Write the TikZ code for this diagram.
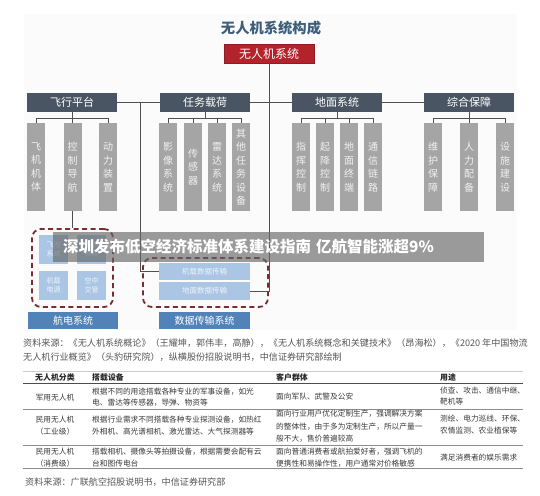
\documentclass[tikz,border=0pt]{standalone}
\usepackage{fontspec}
\setmainfont{Noto Sans CJK SC}
\usetikzlibrary{calc}
\newcommand\fsz[2]{\fontsize{#1}{#2}\selectfont}
\definecolor{titleC}{HTML}{3D5F7C}
\definecolor{rootC}{HTML}{B3232B}
\definecolor{lvlC}{HTML}{4A5563}
\definecolor{leafC}{HTML}{A5A5A5}
\definecolor{leafT}{HTML}{F0F0F0}
\definecolor{lineC}{HTML}{505050}
\definecolor{dashC}{HTML}{7A2C30}
\definecolor{lbC}{HTML}{AAC6E4}
\definecolor{lbT}{HTML}{EEF4FB}
\definecolor{mbC}{HTML}{5182B8}
\definecolor{txtC}{HTML}{3A3A3A}
\definecolor{srcC}{HTML}{555555}
\definecolor{panelC}{HTML}{FBFBFB}
\definecolor{bannerC}{HTML}{666666}
\tikzset{
  ln/.style={draw=lineC, line width=0.9pt},
  rootbox/.style={fill=rootC, draw=rootC!80!black, text=white, minimum width=90pt, minimum height=19pt, inner sep=0pt, font=\fsz{12}{12}},
  lvlbox/.style={fill=lvlC, text=white, minimum width=90pt, minimum height=19pt, inner sep=0pt, font=\fsz{11}{11}},
  leaf/.style={fill=leafC, text=leafT, minimum width=18pt, minimum height=88pt, inner sep=0pt, align=center, anchor=north west, font=\fsz{10}{13.5}},
  dashbox/.style={draw=dashC, line width=1.8pt, dash pattern=on 5pt off 3.5pt, rounded corners=9pt, inner sep=0pt},
  lbbox/.style={fill=lbC, text=lbT, minimum width=29pt, minimum height=29pt, inner sep=0pt, align=center, font=\fsz{7}{9.5}},
  databox/.style={fill=lbC, text=lbT, minimum width=91pt, inner sep=0pt, font=\fsz{7.5}{7.5}},
  mbbox/.style={fill=mbC, text=white, minimum height=17pt, inner sep=0pt, font=\fsz{10}{10}},
  banner/.style={fill=bannerC, fill opacity=0.65, text opacity=1, text=white, minimum height=30pt, inner xsep=10pt, inner ysep=0pt, text width=411pt, align=left, font=\fsz{15.5}{15.5}\bfseries},
  tt/.style={text=txtC, font=\fsz{7.7}{7.7}, inner sep=0pt},
  tl/.style={tt, anchor=west},
  th/.style={tt, anchor=west, font=\fsz{7.9}{7.9}\bfseries, text=black!85},
  src/.style={text=srcC, font=\fsz{9.1}{9.1}, inner sep=0pt, anchor=west},
}
\begin{document}
\begin{tikzpicture}[x=1pt,y=-1pt]
\useasboundingbox (0,0) rectangle (540,495);
\fill[white] (0,0) rectangle (540,495);
\fill[panelC] (24,14) rectangle (517,330);

% title and root
\node[text=titleC, font=\fsz{14.3}{14.3}\bfseries, inner sep=0pt] (title) at (271,28) {无人机系统构成};
\node[rootbox] (root) at (269,53.5) {无人机系统};

% level 2
\node[lvlbox] (p1) at (72,102.5) {飞行平台};
\node[lvlbox] (p2) at (205,102.5) {任务载荷};
\node[lvlbox] (p3) at (337,102.5) {地面系统};
\node[lvlbox] (p4) at (469,102.5) {综合保障};

% leaves
\node[leaf] (a1) at (27,123) {飞\\机\\机\\体};
\node[leaf] (a2) at (63.5,123) {控\\制\\导\\航};
\node[leaf] (a3) at (99,123) {动\\力\\装\\置};
\node[leaf] (b1) at (159,123) {影\\像\\系\\统};
\node[leaf] (b2) at (184,123) {传\\感\\器};
\node[leaf] (b3) at (208,123) {雷\\达\\系\\统};
\node[leaf] (b4) at (232,123) {其\\他\\任\\务\\设\\备};
\node[leaf] (c1) at (292,123) {指\\挥\\控\\制};
\node[leaf] (c2) at (316,123) {起\\降\\控\\制};
\node[leaf] (c3) at (340,123) {地\\面\\终\\端};
\node[leaf] (c4) at (364,123) {通\\信\\链\\路};
\node[leaf] (d1) at (424,123) {维\\护\\保\\障};
\node[leaf] (d2) at (460,123) {人\\力\\配\\备};
\node[leaf] (d3) at (496,123) {设\\施\\建\\设};

% brackets
\draw[ln] (p1.south) -- ++(0,6);
\draw[ln] (a1.north) -- ++(0,-5) -| (a3.north);
\draw[ln] (a2.north) -- ++(0,-5);
\draw[ln] (p2.south) -- ++(0,6);
\draw[ln] (b1.north) -- ++(0,-5) -| (b4.north);
\draw[ln] (b2.north) -- ++(0,-5);
\draw[ln] (b3.north) -- ++(0,-5);
\draw[ln] (p3.south) -- ++(0,6);
\draw[ln] (c1.north) -- ++(0,-5) -| (c4.north);
\draw[ln] (c2.north) -- ++(0,-5);
\draw[ln] (c3.north) -- ++(0,-5);
\draw[ln] (p4.south) -- ++(0,6);
\draw[ln] (d1.north) -- ++(0,-5) -| (d3.north);
\draw[ln] (d2.north) -- ++(0,-5);

% horizontal links
\draw[ln] (p1.east) -- (p2.west);
\draw[ln] (p2.east) -- (p3.west);
\draw[ln] (p3.east) -- (p4.west);

% dashed groups
\node[dashbox, minimum width=81pt, minimum height=78pt] (gL) at (72.5,268) {};
\node[dashbox, minimum width=125pt, minimum height=49pt] (gR) at (205.5,282.5) {};

\node[lbbox] (e1) at (53.5,249.5) {飞控\\系统};
\node[lbbox] (e2) at (91.5,249.5) {导航\\系统};
\node[lbbox] (e3) at (53.5,285.5) {机载\\电源};
\node[lbbox] (e4) at (91.5,285.5) {空中\\交管};

\node[databox, minimum height=17pt] (t1) at (204.5,271.5) {机载数据传输};
\node[databox, minimum height=18pt] (t2) at (204.5,291) {地面数据传输};

\node[mbbox, minimum width=90pt] (s1) at (73,320.5) {航电系统};
\node[mbbox, minimum width=91pt] (s2) at (204.5,320.5) {数据传输系统};

% long connectors
\coordinate (j1) at (140,102.5);
\draw[ln] (j1) |- (t1.west);
\draw[ln] (root.south) |- (t2.east);
\draw[ln] (a2.south) -- (a2.south |- gL.north);

% banner
\node[banner] (ban) at (268.5,247) {深圳发布低空经济标准体系建设指南 亿航智能涨超9\%};

% source 1
\node[src] (src1a) at (23,343) {资料来源：《无人机系统概论》（王耀坤，郭伟丰，高静），《无人机系统概念和关键技术》（昂海松），《2020 年中国物流};
\node[src] (src1b) at (23,357) {无人机行业概览》（头豹研究院），纵横股份招股说明书，中信证券研究部绘制};

% table rules
\draw[draw=black!20, line width=0.5pt] (23,371) -- (523,371);
\draw[draw=black!70, line width=0.8pt] (23,383.5) -- (523,383.5);
\draw[draw=black!45, line width=0.6pt] (23,409) -- (523,409);
\draw[draw=black!45, line width=0.6pt] (23,445.5) -- (523,445.5);
\draw[draw=black!45, line width=0.6pt] (23,468.5) -- (523,468.5);

% header
\node[th] (h1) at (35,377.5) {无人机分类};
\node[th] (h2) at (92,377.5) {搭载设备};
\node[th] (h3) at (276,377.5) {客户群体};
\node[th] (h4) at (440,377.5) {用途};

% row 1
\node[tt] (r1a) at (55,397.5) {军用无人机};
\node[tl] (r1b1) at (92,391.7) {根据不同的用途搭载各种专业的军事设备，如光};
\node[tl] (r1b2) at (92,402.7) {电、雷达等传感器，导弹、物资等};
\node[tl] (r1c) at (276,396.7) {面向军队、武警及公安};
\node[tl] (r1d1) at (440,391) {侦查、攻击、通信中继、};
\node[tl] (r1d2) at (440,402) {靶机等};

% row 2
\node[tt] (r2a1) at (55,420) {民用无人机};
\node[tt] (r2a2) at (55,431.7) {（工业级）};
\node[tl] (r2b1) at (92,420) {根据行业需求不同搭载各种专业探测设备，如热红};
\node[tl] (r2b2) at (92,431.5) {外相机、高光谱相机、激光雷达、大气探测器等};
\node[tl] (r2c1) at (276,413.5) {面向行业用户优化定制生产，强调解决方案};
\node[tl] (r2c2) at (276,426.5) {的整体性，由于多为定制生产，所以产量一};
\node[tl] (r2c3) at (276,438.5) {般不大，售价普遍较高};
\node[tl] (r2d1) at (440,418.5) {测绘、电力巡线、环保、};
\node[tl] (r2d2) at (440,430.5) {农情监测、农业植保等};

% row 3
\node[tt] (r3a1) at (55,452) {民用无人机};
\node[tt] (r3a2) at (55,464) {（消费级）};
\node[tl] (r3b1) at (92,451.5) {搭载相机、摄像头等拍摄设备，根据需要会配有云};
\node[tl] (r3b2) at (92,463.5) {台和图传电台};
\node[tl] (r3c1) at (276,451.5) {面向普通消费者或航拍爱好者，强调飞机的};
\node[tl] (r3c2) at (276,463.5) {便携性和易操作性，用户通常对价格敏感};
\node[tl] (r3d) at (440,457.7) {满足消费者的娱乐需求};

% source 2
\node[src] (src2) at (25,481.7) {资料来源：广联航空招股说明书，中信证券研究部};
\end{tikzpicture}
\end{document}
